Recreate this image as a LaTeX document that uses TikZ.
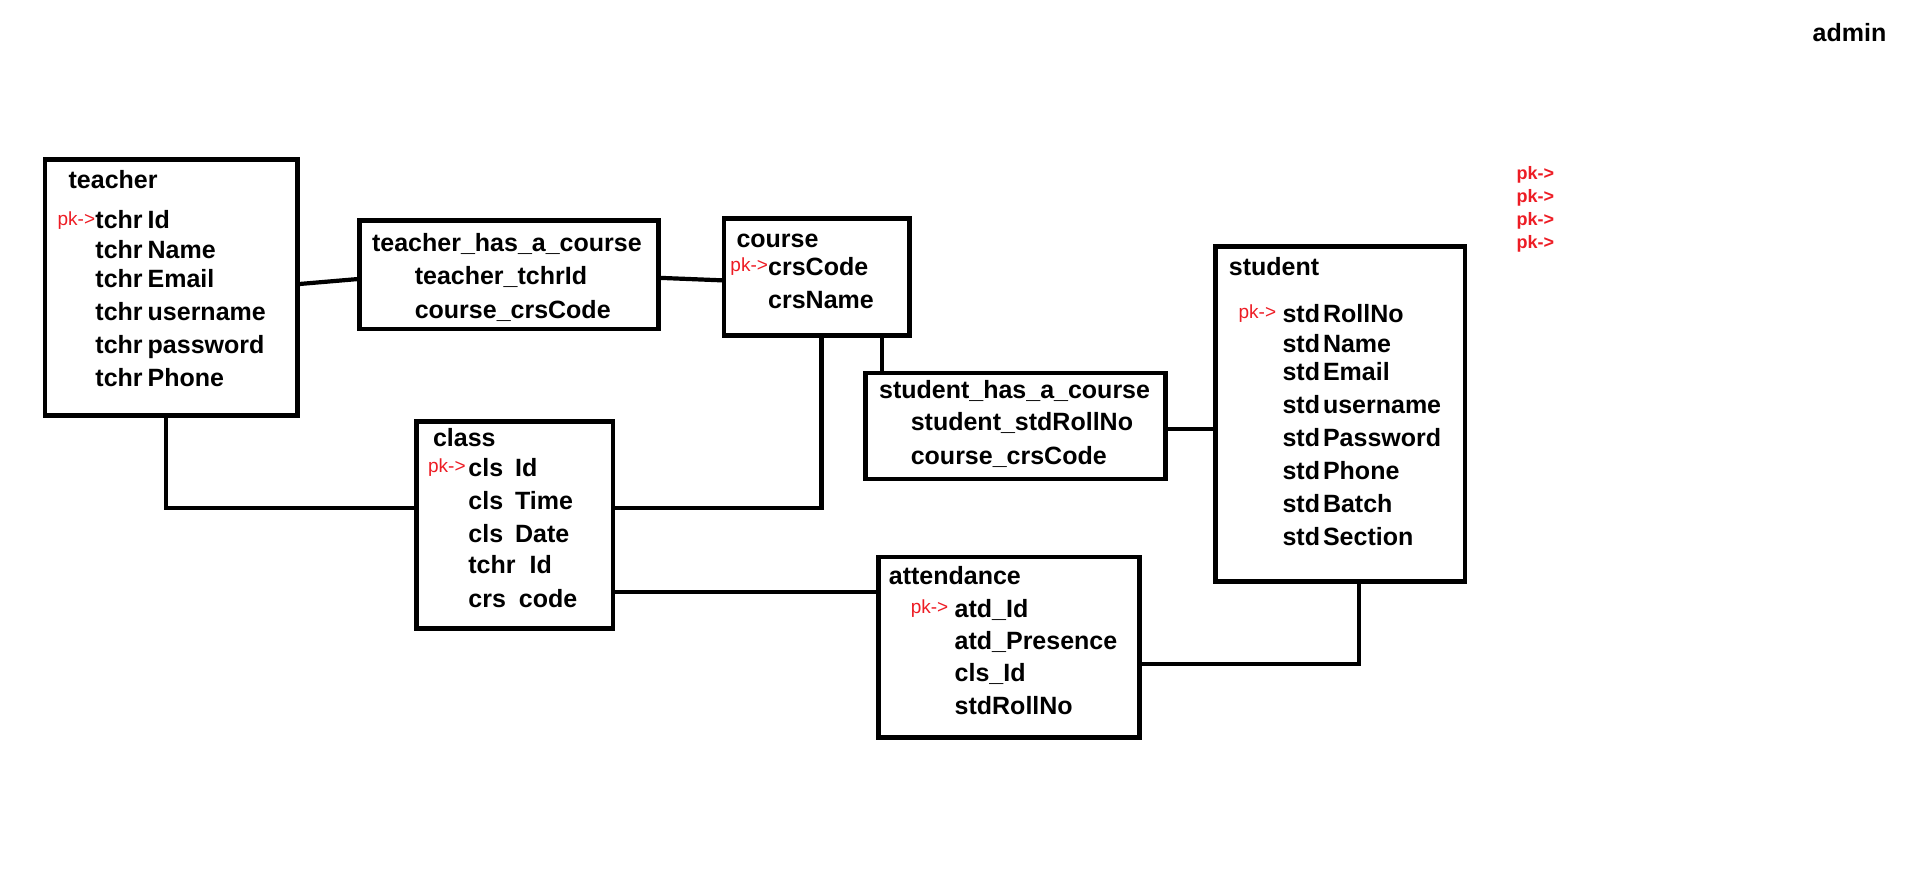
\documentclass[tikz,border=0pt]{standalone}
\usepackage{fontspec}
\setmainfont{Liberation Sans}
\usetikzlibrary{fit}
\definecolor{pkred}{RGB}{237,28,36}
\begin{document}
\begin{tikzpicture}[x=0.6094pt,y=-0.6094pt,
  box/.style={draw, line width=2.4pt, inner sep=0pt},
  lbl/.style={anchor=base west, inner sep=0pt, font=\fontsize{12.5}{15}\selectfont\bfseries},
  pkl/.style={anchor=base west, inner sep=0pt, text=pkred, font=\fontsize{9.5}{11}\selectfont},
  pkb/.style={anchor=base west, inner sep=0pt, text=pkred, font=\fontsize{9}{11}\selectfont\bfseries},
  conn/.style={line width=2.1pt, line join=miter, line cap=rect}]
\useasboundingbox (0,0) rectangle (1568,715);

% boxes
\node[box, fit={(37,131)(244,341)}] (teacher) {};
\node[box, fit={(295,181)(540,270)}] (tha) {};
\node[box, fit={(594,179)(746,275)}] (course) {};
\node[box, fit={(997,202)(1202,477)}] (student) {};
\node[box, fit={(710,306)(956,393)}] (sha) {};
\node[box, fit={(342,346)(503,516)}] (class) {};
\node[box, fit={(721,457)(935,605)}] (attendance) {};

% teacher
\node[lbl] (tT) at (56,147+7.3) {teacher};
\node[pkl] (tpk) at (47,181+4) {pk->};
\node[lbl] (t1) at (78,180+7.3) {tchr\kern2.5pt Id};
\node[lbl] (t2) at (78,205+7.3) {tchr\kern2.5pt Name};
\node[lbl] (t3) at (78,229+7.3) {tchr\kern2.5pt Email};
\node[lbl] (t4) at (78,256+7.3) {tchr\kern2.5pt username};
\node[lbl] (t5) at (78,283+7.3) {tchr\kern2.5pt password};
\node[lbl] (t6) at (78,310+7.3) {tchr\kern2.5pt Phone};

% teacher_has_a_course
\node[lbl] (hT) at (305,199+7.3) {teacher\_has\_a\_course};
\node[lbl] (h1) at (340,226+7.3) {teacher\_tchrId};
\node[lbl] (h2) at (340,254+7.3) {course\_crsCode};

% course
\node[lbl] (cT) at (604,196+7.3) {course};
\node[pkl] (cpk) at (599,219+4) {pk->};
\node[lbl] (c1) at (630,219+7.3) {crsCode};
\node[lbl] (c2) at (630,246+7.3) {crsName};

% student_has_a_course
\node[lbl] (sT) at (721,320+7.3) {student\_has\_a\_course};
\node[lbl] (s1) at (747,346+7.3) {student\_stdRollNo};
\node[lbl] (s2) at (747,374+7.3) {course\_crsCode};

% student
\node[lbl] (uT) at (1008,219+7.3) {student};
\node[pkl] (upk) at (1016,257+4) {pk->};
\node[lbl] (u1) at (1052,257+7.3) {std\kern1.5pt RollNo};
\node[lbl] (u2) at (1052,282+7.3) {std\kern1.5pt Name};
\node[lbl] (u3) at (1052,305+7.3) {std\kern1.5pt Email};
\node[lbl] (u4) at (1052,332+7.3) {std\kern1.5pt username};
\node[lbl] (u5) at (1052,359+7.3) {std\kern1.5pt Password};
\node[lbl] (u6) at (1052,386+7.3) {std\kern1.5pt Phone};
\node[lbl] (u7) at (1052,413+7.3) {std\kern1.5pt Batch};
\node[lbl] (u8) at (1052,440+7.3) {std\kern1.5pt Section};

% class
\node[lbl] (kT) at (355,359+7.3) {class};
\node[pkl] (kpk) at (351,384+4) {pk->};
\node[lbl] (k1) at (384,384+7.3) {cls\hspace{6pt}Id};
\node[lbl] (k2) at (384,411+7.3) {cls\hspace{6pt}Time};
\node[lbl] (k3) at (384,438+7.3) {cls\hspace{6pt}Date};
\node[lbl] (k4) at (384,463+7.3) {tchr\hspace{7pt}Id};
\node[lbl] (k5) at (384,491+7.3) {crs\hspace{6.5pt}code};

% attendance
\node[lbl] (aT) at (729,472+7.3) {attendance};
\node[pkl] (apk) at (747,499+4) {pk->};
\node[lbl] (a1) at (783,499+7.3) {atd\_Id};
\node[lbl] (a2) at (783,526+7.3) {atd\_Presence};
\node[lbl] (a3) at (783,552+7.3) {cls\_Id};
\node[lbl] (a4) at (783,579+7.3) {stdRollNo};

% free labels
\node[lbl] (admin) at (1487,34) {admin};
\node[pkb] (p1) at (1244,143+4) {pk->};
\node[pkb] (p2) at (1244,162+4) {pk->};
\node[pkb] (p3) at (1244,181+4) {pk->};
\node[pkb] (p4) at (1244,200+4) {pk->};

% connectors
\draw[conn] (teacher.east |- 0,233) -- (tha.west |- 0,229);
\draw[conn] (tha.east |- 0,228) -- (course.west |- 0,230);
\draw[conn] (teacher.south -| 136.5,0) |- (class.west |- 0,417);
\draw[conn] (course.south -| 674,0) |- (class.east |- 0,417);
\draw[conn] (course.south -| 724,0) -- (sha.north -| 724,0);
\draw[conn] (sha.east |- 0,352) -- (student.west |- 0,352);
\draw[conn] (class.east |- 0,486) -- (attendance.west |- 0,486);
\draw[conn] (attendance.east |- 0,545) -| (student.south -| 1115,0);
\end{tikzpicture}
\end{document}
